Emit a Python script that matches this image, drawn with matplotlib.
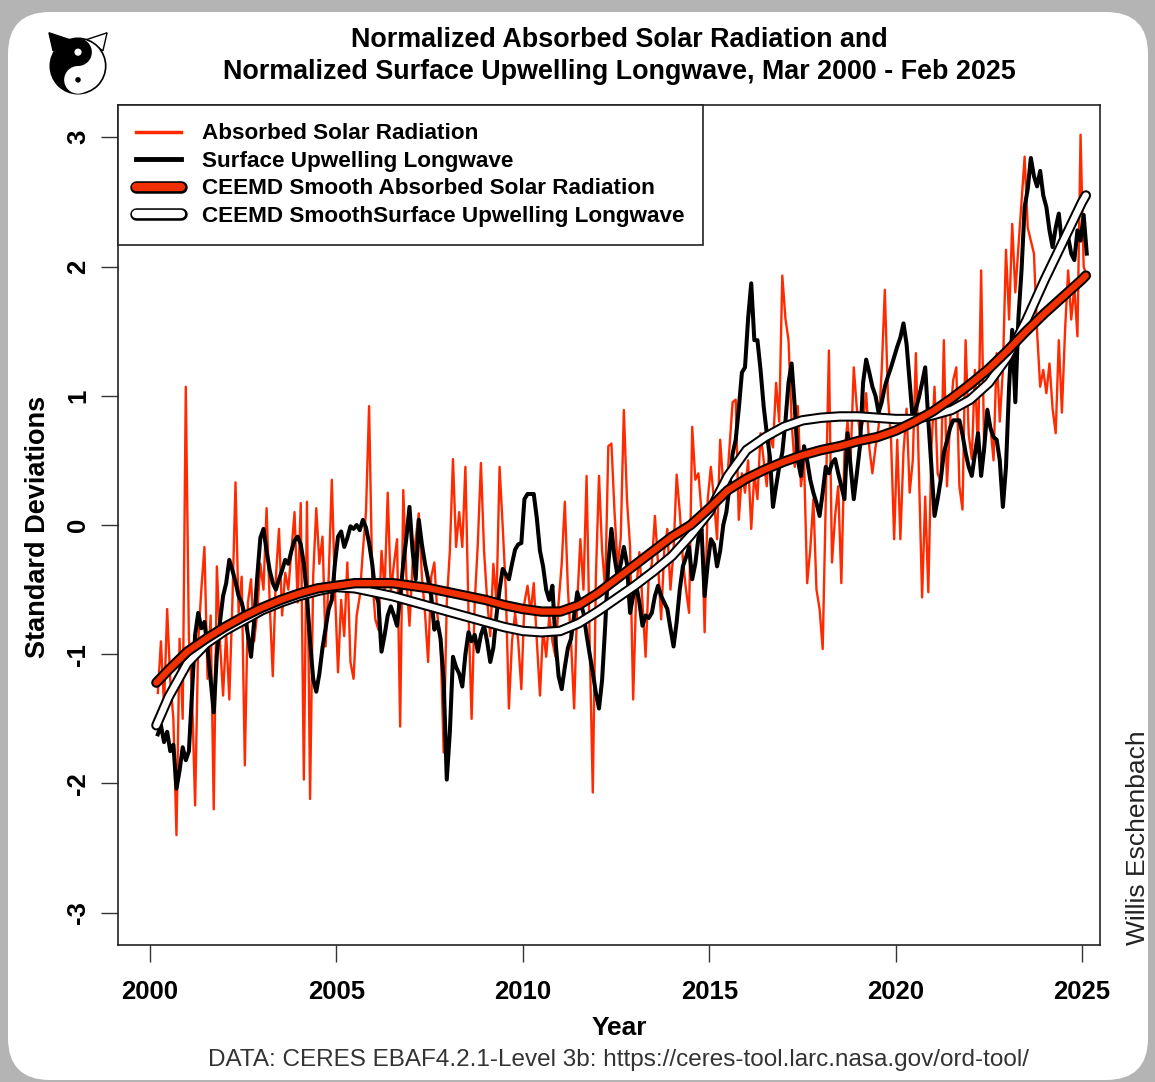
import matplotlib.pyplot as plt
from matplotlib.lines import Line2D
from matplotlib.patches import FancyBboxPatch, Circle, Wedge, Polygon
from matplotlib.legend_handler import HandlerTuple
import numpy as np

plt.rcParams['font.family'] = ['Liberation Sans', 'DejaVu Sans']
plt.rcParams['axes.unicode_minus'] = False

# monthly normalized values, Mar 2000 - Feb 2025 (one row per calendar year)
asr = [
    -1.3, -0.9, -1.4, -0.65, -1.2, -1.5, -2.4, -0.88, -1.5, 1.07,
    -0.88, -1.3, -2.17, -0.9, -0.5, -0.17, -1.19, -0.7, -2.2, -0.32, -0.9, -1.32,
    -0.83, -1.35, -0.6, 0.33, -0.68, -0.4, -1.86, -0.6, -0.42, -0.9, -0.68, -0.3,
    -0.5, 0.13, -0.6, -1.17, -0.4, -0.03, -0.7, -0.37, -0.5, -0.2, 0.1, -0.6,
    0.17, -1.97, 0.18, -2.12, -0.4, 0.13, -0.3, -0.09, -0.94, -0.4, 0.35, -0.5,
    -1.14, -0.58, -0.86, -0.29, -1.06, -1.19, -0.7, -0.55, -0.2, 0.1, 0.92, -0.4,
    -0.73, -0.81, -0.2, -0.5, 0.25, -0.52, -0.3, -0.11, -1.56, 0.27, -0.4, -0.78,
    -0.3, -0.1, 0.09, -0.4, -0.68, -1.06, -0.4, -0.29, -0.7, -0.9, -1.76, -0.6,
    -0.2, 0.51, -0.17, 0.1, -0.17, 0.45, -0.68, -1.5, -0.6, -0.14, 0.48, -0.2,
    -0.58, -0.86, -0.3, -0.6, 0.45, -0.01, -0.5, -1.42, -0.9, -0.68, -0.9, -1.27,
    -0.6, -0.47, -0.68, -0.45, -0.9, -1.32, -0.8, -1.02, -0.7, -0.9, -1.02, -0.6,
    -0.3, 0.18, -0.5, -0.9, -1.42, -0.6, -0.11, -0.5, 0.38, -0.9, -2.07, -0.4,
    0.38, -0.2, -0.5, 0.61, 0.63, 0.1, -0.32, -0.1, 0.89, 0.2, -0.17, -1.35,
    -0.5, -0.21, -0.6, -1.02, -0.4, -0.3, 0.07, -0.3, -0.73, -0.2, -0.03, -0.5,
    -0.2, 0.39, 0.1, -0.27, -0.5, -0.68, 0.76, 0.35, 0.4, 0.1, -0.83, 0.2,
    0.45, 0.2, -0.11, 0.66, 0.3, 0.25, 0.6, 0.95, 0.97, 0.04, 0.4, 0.25,
    0.5, -0.03, 0.4, 0.2, 0.71, 0.5, 0.3, 0.7, 0.6, 1.1, 0.8, 1.93,
    1.6, 1.43, 0.8, 0.45, 0.92, 0.3, 0.5, -0.45, -0.19, 0.2, -0.5, -0.65,
    -0.96, 0.2, 1.35, -0.29, 0.07, 0.3, -0.45, 0.56, 0.8, 0.5, 1.22, 0.9,
    0.71, 0.8, 1.02, 0.6, 0.4, 0.6, 0.76, 1.2, 1.82, 1.0, 0.66, -0.11,
    0.66, -0.11, 0.56, 0.9, 0.25, 0.5, 1.33, 0.4, -0.56, 0.22, -0.52, 0.6,
    1.07, 0.4, 0.33, 1.43, 0.3, 0.8, 1.12, 1.22, 0.3, 0.12, 1.43, 0.7,
    0.51, 1.2, 0.56, 1.97, 0.56, 0.9, 0.76, 0.5, 1.33, 0.8, 1.2, 2.13,
    1.59, 2.33, 1.8, 2.15, 2.5, 2.85, 2.3, 2.2, 2.1, 1.5, 1.07, 1.2,
    1.02, 1.25, 0.9, 0.71, 1.43, 0.87, 1.5, 1.97, 1.59, 1.84, 1.46, 3.02,
    2.0, 1.92,
]

sulw = [
    -1.62, -1.55, -1.68, -1.6, -1.75, -1.7, -2.04, -1.9, -1.72, -1.82,
    -1.75, -1.3, -0.85, -0.68, -0.8, -0.75, -0.95, -1.2, -1.45, -1.0, -0.75, -0.55,
    -0.45, -0.27, -0.35, -0.44, -0.55, -0.6, -0.7, -0.85, -1.02, -0.75, -0.4, -0.1,
    -0.03, -0.2, -0.35, -0.45, -0.5, -0.42, -0.35, -0.27, -0.3, -0.2, -0.12, -0.09,
    -0.15, -0.3, -0.55, -0.9, -1.19, -1.29, -1.15, -0.95, -0.8, -0.65, -0.58, -0.3,
    -0.09, -0.05, -0.17, -0.1, -0.01, -0.03, 0.0, -0.04, 0.04, -0.02, -0.14, -0.3,
    -0.52, -0.6, -0.98, -0.85, -0.7, -0.63, -0.7, -0.78, -0.55, -0.3, -0.1, 0.14,
    -0.2, -0.42, 0.04, -0.15, -0.3, -0.42, -0.55, -0.81, -0.75, -0.88, -1.2, -1.97,
    -1.6, -1.02, -1.1, -1.15, -1.25, -1.0, -0.83, -0.9, -0.85, -0.98, -0.85, -0.78,
    -0.9, -1.06, -0.95, -0.7, -0.5, -0.34, -0.38, -0.42, -0.3, -0.19, -0.15, -0.14,
    0.2, 0.24, 0.24, 0.24, 0.05, -0.2, -0.32, -0.5, -0.58, -0.47, -0.9, -1.17,
    -1.27, -1.1, -0.95, -0.88, -0.7, -0.52, -0.6, -0.68, -0.85, -1.0, -1.14, -1.3,
    -1.42, -1.2, -0.78, -0.3, -0.03, -0.25, -0.4, -0.3, -0.17, -0.3, -0.68, -0.55,
    -0.47, -0.6, -0.78, -0.7, -0.72, -0.68, -0.55, -0.47, -0.55, -0.6, -0.65, -0.8,
    -0.94, -0.75, -0.5, -0.32, -0.25, -0.17, -0.42, -0.3, -0.1, -0.03, -0.55, -0.3,
    -0.11, -0.15, -0.32, -0.2, 0.0, 0.1, 0.3, 0.55, 0.66, 0.9, 1.18, 1.22,
    1.6, 1.87, 1.43, 1.43, 1.2, 0.92, 0.71, 0.53, 0.14, 0.3, 0.45, 0.56,
    0.8, 1.1, 1.25, 0.92, 0.5, 0.38, 0.61, 0.5, 0.35, 0.25, 0.17, 0.07,
    0.25, 0.45, 0.4, 0.48, 0.51, 0.4, 0.3, 0.2, 0.71, 0.45, 0.2, 0.4,
    0.61, 1.1, 1.28, 1.18, 1.07, 1.0, 0.87, 0.95, 1.07, 1.15, 1.22, 1.3,
    1.38, 1.45, 1.56, 1.4, 1.1, 0.81, 0.9, 0.99, 1.1, 1.22, 0.81, 0.45,
    0.07, 0.2, 0.35, 0.56, 0.65, 0.75, 0.81, 0.81, 0.81, 0.7, 0.56, 0.45,
    0.38, 0.55, 0.71, 0.38, 0.6, 0.89, 0.75, 0.68, 0.66, 0.5, 0.14, 0.45,
    1.07, 1.51, 0.95, 1.6, 1.97, 2.46, 2.6, 2.84, 2.7, 2.62, 2.74, 2.55,
    2.46, 2.28, 2.15, 2.3, 2.41, 2.18, 2.25, 2.23, 2.1, 2.05, 2.28, 2.2,
    2.4, 2.1,
]

# CEEMD smooths, read at half-year steps
smooth_years = [2000.17] + list(np.arange(2000.5, 2025.01, 0.5)) + [2025.1]
asr_smooth = [
    -1.22, -1.12, -0.98, -0.88, -0.79, -0.71, -0.64, -0.58, -0.53, -0.49,
    -0.47, -0.45, -0.45, -0.45, -0.47, -0.49, -0.52, -0.55, -0.58, -0.62,
    -0.65, -0.67, -0.67, -0.62, -0.53, -0.42, -0.31, -0.2, -0.09, 0.0,
    0.13, 0.27, 0.36, 0.43, 0.49, 0.54, 0.58, 0.61, 0.65, 0.68,
    0.73, 0.8, 0.88, 0.98, 1.09, 1.21, 1.35, 1.5, 1.64, 1.77, 1.9, 1.93,
]
sulw_smooth = [
    -1.55, -1.33, -1.07, -0.92, -0.82, -0.74, -0.66, -0.6, -0.55, -0.51,
    -0.48, -0.49, -0.52, -0.55, -0.59, -0.63, -0.67, -0.71, -0.75, -0.79,
    -0.82, -0.83, -0.82, -0.76, -0.67, -0.57, -0.47, -0.36, -0.24, -0.08,
    0.1, 0.38, 0.58, 0.68, 0.76, 0.81, 0.83, 0.84, 0.84, 0.83,
    0.82, 0.82, 0.85, 0.89, 0.97, 1.1, 1.3, 1.58, 1.9, 2.2, 2.5, 2.55,
]

months = 2000 + (np.arange(len(asr)) + 2.5) / 12

RED = '#ff2a00'
SRED = '#f03000'

W, H = 1155, 1082
fig = plt.figure(figsize=(W / 100, H / 100), dpi=100, facecolor='#b4b4b4')

# white rounded card behind everything
card = FancyBboxPatch((0.08, 0.02), 11.40, 10.68, boxstyle='round,pad=0,rounding_size=0.42',
                      transform=fig.dpi_scale_trans, facecolor='white', edgecolor='none', zorder=-5)
fig.patches.append(card)

ax = fig.add_axes([118 / W, 137 / H, 982 / W, 840 / H])
ax.set_zorder(2)
ax.set_facecolor('white')

ax.plot(months, asr, color=RED, lw=1.7, zorder=2)
ax.plot(months, sulw, color='black', lw=2.9, zorder=3)
ax.plot(smooth_years, sulw_smooth, color='black', lw=7.5, solid_capstyle='round', solid_joinstyle='round', zorder=4)
ax.plot(smooth_years, sulw_smooth, color='white', lw=4.6, solid_capstyle='round', solid_joinstyle='round', zorder=5)
ax.plot(smooth_years, asr_smooth, color='black', lw=7.5, solid_capstyle='round', solid_joinstyle='round', zorder=6)
ax.plot(smooth_years, asr_smooth, color=SRED, lw=4.6, solid_capstyle='round', solid_joinstyle='round', zorder=7)

ax.set_xlim(1999.14, 2025.48)
ax.set_ylim(-3.25, 3.25)
ax.set_xticks(range(2000, 2026, 5))
ax.set_yticks(range(-3, 4))
ax.tick_params(axis='both', length=12, width=1, labelsize=18.5, color='#333333')
ax.tick_params(axis='x', pad=13)
ax.tick_params(axis='y', pad=8, labelrotation=90)
for lab in ax.get_xticklabels() + ax.get_yticklabels():
    lab.set_fontweight('bold')
for lab in ax.get_yticklabels():
    lab.set_verticalalignment('center')
for sp in ax.spines.values():
    sp.set_linewidth(1.2)
    sp.set_color('#222222')

# legend
h1 = Line2D([], [], color=RED, lw=2.5)
h2 = Line2D([], [], color='black', lw=3.5)
h3 = (Line2D([], [], color='black', lw=9, solid_capstyle='round'),
      Line2D([], [], color=SRED, lw=6, solid_capstyle='round'))
h4 = (Line2D([], [], color='black', lw=9, solid_capstyle='round'),
      Line2D([], [], color='white', lw=6, solid_capstyle='round'))
labels = ['Absorbed Solar Radiation', 'Surface Upwelling Longwave',
          'CEEMD Smooth Absorbed Solar Radiation', 'CEEMD SmoothSurface Upwelling Longwave']
leg = ax.legend([h1, h2, h3, h4], labels, loc='upper left', bbox_to_anchor=(0, 1),
                borderaxespad=0, prop={'weight': 'bold', 'size': 16.2},
                handlelength=2.0, handletextpad=0.9, labelspacing=0.29, borderpad=0.82,
                fancybox=False, framealpha=1, edgecolor='#222222',
                handler_map={tuple: HandlerTuple(ndivide=1)})
leg.get_frame().set_linewidth(1.2)
leg.set_zorder(10)

# text
fig.text(619 / W, 1 - 40 / H, 'Normalized Absorbed Solar Radiation and', ha='center', va='center',
         fontsize=19.4, fontweight='bold')
fig.text(619 / W, 1 - 72 / H, 'Normalized Surface Upwelling Longwave, Mar 2000 - Feb 2025', ha='center',
         va='center', fontsize=19.4, fontweight='bold')
fig.text(619 / W, 1 - 1028 / H, 'Year', ha='center', va='center', fontsize=19, fontweight='bold')
fig.text(38 / W, 1 - 527 / H, 'Standard Deviations', ha='center', va='center', rotation=90,
         fontsize=19.5, fontweight='bold')
fig.text(619 / W, 1 - 1060 / H, 'DATA: CERES EBAF4.2.1-Level 3b: https://ceres-tool.larc.nasa.gov/ord-tool/',
         ha='center', va='center', fontsize=17.5, color='#333333')
fig.text(1138 / W, 137 / H, 'Willis Eschenbach', ha='center', va='bottom', rotation=90,
         fontsize=19, color='#222222')

# little yin-yang logo
lg = fig.add_axes([42 / W, 1 - 102 / H, 72 / W, 72 / H])
lg.set_zorder(2)
lg.set_xlim(-1.3, 1.3)
lg.set_ylim(-1.3, 1.3)
lg.set_aspect('equal')
lg.axis('off')
lg.add_patch(Polygon([[-0.9, 0.55], [-1.05, 1.2], [-0.3, 0.95]], closed=True, fc='black', ec='black'))
lg.add_patch(Polygon([[0.9, 0.55], [1.05, 1.2], [0.3, 0.95]], closed=True, fc='white', ec='black', lw=1))
lg.add_patch(Circle((0, 0), 1, fc='white', ec='black', lw=1.2))
lg.add_patch(Wedge((0, 0), 1, 90, 270, fc='black'))
lg.add_patch(Circle((0, 0.5), 0.5, fc='black'))
lg.add_patch(Circle((0, -0.5), 0.5, fc='white'))
lg.add_patch(Circle((0, 0.5), 0.13, fc='white'))
lg.add_patch(Circle((0, -0.5), 0.1, fc='black'))

fig.savefig('out.png', dpi=100, facecolor=fig.get_facecolor())
